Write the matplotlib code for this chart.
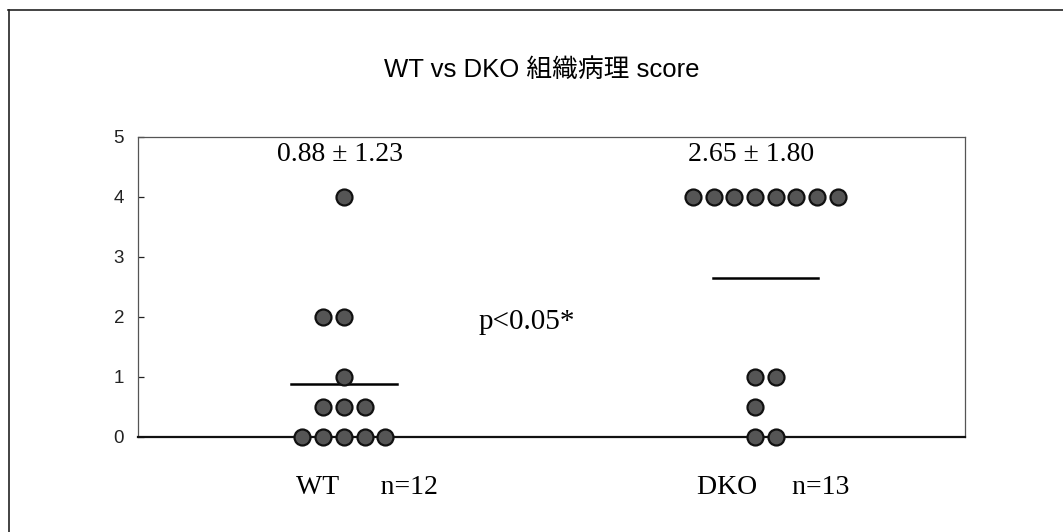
import numpy as np
import matplotlib.pyplot as plt
from matplotlib.lines import Line2D

# data
groups = ["WT", "DKO"]
wt_scores = [4, 2, 2, 1, 0.5, 0.5, 0.5, 0, 0, 0, 0, 0]
dko_scores = [4, 4, 4, 4, 4, 4, 4, 4, 1, 1, 0.5, 0, 0]
mean_text = ["0.88 ± 1.23", "2.65 ± 1.80"]
n_text = ["WT      n=12", "DKO     n=13"]
p_text = "p<0.05*"
title = "WT vs DKO 組織病理 score"

serif = ["Liberation Serif", "DejaVu Serif"]
sans = ["Liberation Sans", "Noto Sans CJK JP", "DejaVu Sans"]


def dot_positions(values, center, step, lean):
    # stack equal values side by side; lean decides where even rows sit
    xs, ys = [], []
    for v in sorted(set(values), reverse=True):
        n = values.count(v)
        if lean == "left":
            offs = np.arange(n) - n // 2
        else:
            offs = np.arange(n) - (n - 1) // 2
        xs.extend(center + offs * step)
        ys.extend([v] * n)
    return np.array(xs), np.array(ys)


fig = plt.figure(figsize=(10.63, 5.32), dpi=100)
ax = fig.add_axes([0.1298, 0.1786, 0.778, 0.5639])

step = 0.0504
all_scores = [wt_scores, dko_scores]
leans = ["left", "right"]
label_shift = [0.055, 0.045]
for i, scores in enumerate(all_scores):
    c = i + 1
    xs, ys = dot_positions(scores, c, step, leans[i])
    ax.plot(xs, ys, "o", ms=11.5, mfc="#555555", mec="#111111", mew=1.6,
            zorder=3, clip_on=False)
    # mean bar centred on the widest row
    widest = max(set(scores), key=scores.count)
    mid = xs[ys == widest].mean()
    m = np.mean(scores)
    ax.plot([mid - 0.128, mid + 0.128], [m, m], color="black", lw=1.8, zorder=2)
    ax.text(c - 0.01, 4.7, mean_text[i], ha="center", va="center",
            fontsize=20, family=serif)
    ax.text(c + label_shift[i], -0.85, n_text[i], ha="center", va="center",
            fontsize=20, family=serif, clip_on=False)

ax.text(1.445, 1.92, p_text, ha="center", va="center", fontsize=21, family=serif)

ax.set_xlim(0.499, 2.511)
ax.set_ylim(0, 5)
ax.set_yticks([0, 1, 2, 3, 4, 5])
ax.set_xticks([])
ax.tick_params(axis="y", direction="in", length=4, width=0.9, pad=10,
               labelsize=13.5, colors="#222222")
for lab in ax.get_yticklabels():
    lab.set_family(sans)
for s in ["top", "right", "left"]:
    ax.spines[s].set_color("#555555")
    ax.spines[s].set_linewidth(0.9)
ax.spines["bottom"].set_color("#111111")
ax.spines["bottom"].set_linewidth(1.6)

fig.text(0.51, 0.868, title, ha="center", va="center", fontsize=18.5,
         family=sans)

# outer frame (cut at right and bottom)
fig.add_artist(Line2D([8 / 1063, 1.0], [1 - 10 / 532, 1 - 10 / 532],
                      color="#222222", lw=1.2))
fig.add_artist(Line2D([8.5 / 1063, 8.5 / 1063], [0, 1 - 10 / 532],
                      color="#222222", lw=1.2))

fig.savefig("out.png", dpi=100)
